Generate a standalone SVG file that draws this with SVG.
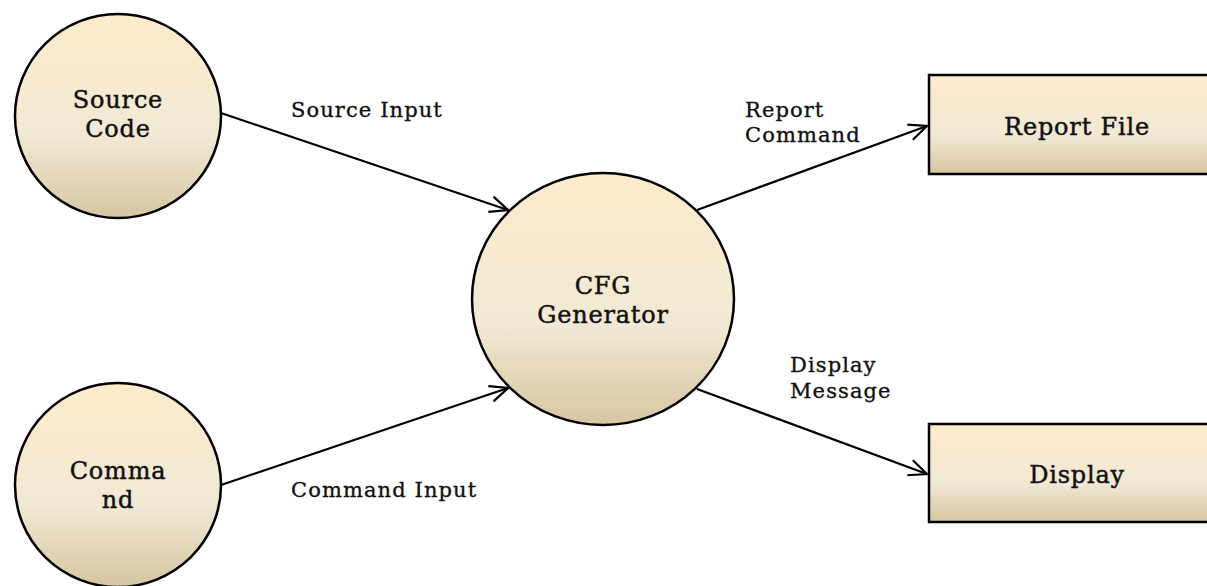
<svg xmlns="http://www.w3.org/2000/svg" width="1207" height="586" viewBox="0 0 1207 586">
<defs>
<linearGradient id="g" x1="0" y1="0" x2="0" y2="1">
<stop offset="0" stop-color="#FDEBCC"/>
<stop offset="0.6" stop-color="#F1E9D5"/>
<stop offset="1" stop-color="#D6C6A1"/>
</linearGradient>
<marker id="arr" viewBox="0 0 20 20" refX="19" refY="10" markerWidth="20" markerHeight="20" markerUnits="userSpaceOnUse" orient="auto">
<path d="M1 2 L19 10 L1 18" fill="none" stroke="#000" stroke-width="2.2"/>
</marker>
<style>
.shape{fill:url(#g);stroke:#000;stroke-width:2.5}
.t{font-family:"DejaVu Serif","Liberation Serif",serif;font-size:24px;letter-spacing:0.8px;fill:#111;stroke:#111;stroke-width:0.45;text-anchor:middle}
.l{font-family:"DejaVu Serif","Liberation Serif",serif;font-size:21px;letter-spacing:1.1px;fill:#111;stroke:#111;stroke-width:0.35}
.c{fill:none;stroke:#000;stroke-width:2.2}
</style>
</defs>
<g id="connectors">
<line class="c" x1="221" y1="113" x2="508" y2="210" marker-end="url(#arr)"/>
<line class="c" x1="221" y1="485" x2="508" y2="388" marker-end="url(#arr)"/>
<line class="c" x1="697" y1="210" x2="927" y2="126" marker-end="url(#arr)"/>
<line class="c" x1="697" y1="389" x2="927" y2="474" marker-end="url(#arr)"/>
<text class="l" x="291" y="117">Source Input</text>
<text class="l" x="291" y="497">Command Input</text>
<text class="l" x="745" y="117">Report</text>
<text class="l" x="745" y="142">Command</text>
<text class="l" x="790" y="372">Display</text>
<text class="l" x="790" y="398">Message</text>
</g>
<g id="source-code">
<ellipse class="shape" cx="118" cy="116" rx="103" ry="102"/>
<text class="t" x="118" y="108">Source</text>
<text class="t" x="118" y="137">Code</text>
</g>
<g id="command">
<ellipse class="shape" cx="118" cy="485" rx="103" ry="102"/>
<text class="t" x="118" y="479">Comma</text>
<text class="t" x="118" y="508">nd</text>
</g>
<g id="cfg-generator">
<ellipse class="shape" cx="603" cy="299" rx="131" ry="126"/>
<text class="t" x="603" y="294">CFG</text>
<text class="t" x="603" y="323">Generator</text>
</g>
<g id="report-file">
<rect class="shape" x="929" y="75" width="290" height="99"/>
<text class="t" x="1077" y="135">Report File</text>
</g>
<g id="display">
<rect class="shape" x="929" y="424" width="290" height="98"/>
<text class="t" x="1077" y="483">Display</text>
</g>
</svg>
